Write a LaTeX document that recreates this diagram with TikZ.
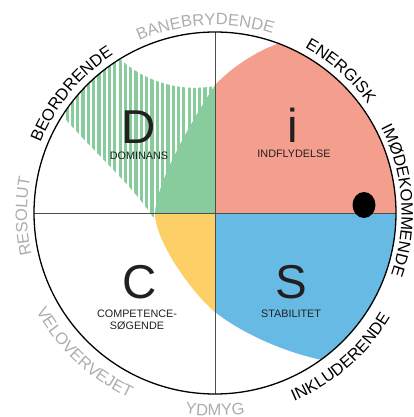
\documentclass[tikz,border=0pt]{standalone}
\usepackage{fontspec}
\setmainfont{Liberation Sans}
\usetikzlibrary{decorations.text}

\definecolor{discRed}{HTML}{F49F8E}
\definecolor{discGreen}{HTML}{88CB9C}
\definecolor{discYellow}{HTML}{FDD067}
\definecolor{discBlue}{HTML}{67BAE3}
\definecolor{lblGray}{HTML}{ADADAD}
\definecolor{txtDark}{HTML}{231F20}
\definecolor{axisGray}{HTML}{4D4D4D}

\newcommand{\bigFont}{\fontsize{47.5}{47.5}\selectfont}
\newcommand{\smallFont}{\fontsize{10.8}{12}\selectfont}
\newcommand{\ringFont}{\fontsize{16.5}{16.5}\selectfont}

\tikzset{
	letter/.style={font=\bigFont, text=txtDark, inner sep=0pt, anchor=base},
	caption/.style={font=\smallFont, text=txtDark, inner sep=0pt, anchor=base},
	axis/.style={draw=axisGray, line width=0.9pt},
	rim/.style={draw=black, line width=1.3pt},
	ringlabel/.style={decorate, decoration={text along path, text align=center}},
}

\begin{document}
\begin{tikzpicture}[x=1pt, y=1pt]
	\useasboundingbox (-215,-204) rectangle (199,213);
	\coordinate (north) at (0,181);
	\coordinate (south) at (0,-181);
	\coordinate (west) at (-181,0);
	\coordinate (east) at (181,0);
	\begin{scope}
		\clip (0,127) arc[start angle=-79.7, end angle=-132.1, radius=112]
			arc[start angle=121.7, end angle=147.5, radius=181]
			.. controls (-125,65) and (-85,30) .. (-62,-4)
			-- (0,-4) -- cycle;
		\foreach \sx in {-160,-154.7,...,0}
			\fill[discGreen] (\sx,-10) rectangle ++(3.2,180);
	\end{scope}
	\begin{scope}
		\clip (0,0) circle (181);
		\clip (90,179) -- (62,169)
			.. controls (40,161) and (16,145) .. (0,128)
			.. controls (-18,100) and (-58,35) .. (-60,0)
			.. controls (-60,-30) and (-20,-83) .. (0,-99)
			.. controls (20,-115) and (60,-137) .. (107,-147)
			-- (150,-156) -- (240,-240) -- (240,240) -- (90,240) -- cycle;
		\fill[discRed] (0,0) rectangle (190,190);
		\fill[discGreen] (0,0) rectangle (-190,190);
		\fill[discYellow] (0,0) rectangle (-190,-190);
		\fill[discBlue] (0,0) rectangle (190,-190);
	\end{scope}
	\draw[axis] (north) -- (south);
	\draw[axis] (west) -- (east);
	\draw[rim] (0,0) circle (181);
	\fill[black] (149,8) ellipse[x radius=11.5, y radius=13];

	\node[letter] (dLetter) at (-76,69) {D};
	\node[caption] (dCaption) at (-76,53) {DOMINANS};
	\node[letter] (iLetter) at (78,70) {i};
	\node[caption] (iCaption) at (79,55) {INDFLYDELSE};
	\node[letter] (cLetter) at (-75,-85) {C};
	\node[caption] (cCaption) at (-78,-104) {COMPETENCE-};
	\node[caption] (cCaptionTwo) at ([yshift=-12]cCaption.base) {SØGENDE};
	\node[letter] (sLetter) at (76,-85) {S};
	\node[caption] (sCaption) at (76,-104) {STABILITET};

	\path[ringlabel, decoration={text={|\ringFont\color{lblGray}|BANEBRYDENDE}}] (123:188) arc[start angle=123, end angle=63, radius=188];
	\path[ringlabel, decoration={text={|\ringFont\color{black}|ENERGISK}}] (78.5:188) arc[start angle=78.5, end angle=18.5, radius=188];
	\path[ringlabel, decoration={text={|\ringFont\color{black}|IMØDEKOMMENDE}}] (39:186.5) arc[start angle=39, end angle=-31, radius=186.5];
	\path[ringlabel, decoration={text={|\ringFont\color{black}|INKLUDERENDE}}] (-79:204) arc[start angle=-79, end angle=-19, radius=204];
	\path[ringlabel, decoration={text={|\ringFont\color{lblGray}|YDMYG}}] (240:203) arc[start angle=240, end angle=300, radius=203];
	\path[ringlabel, decoration={text={|\ringFont\color{lblGray}|VELOVERVEJET}}] (197:204) arc[start angle=197, end angle=257, radius=204];
	\path[ringlabel, decoration={text={|\ringFont\color{lblGray}|RESOLUT}}] (211:188) arc[start angle=211, end angle=151, radius=188];
	\path[ringlabel, decoration={text={|\ringFont\color{black}|BEORDRENDE}}] (170.4:188) arc[start angle=170.4, end angle=110.4, radius=188];
\end{tikzpicture}
\end{document}
